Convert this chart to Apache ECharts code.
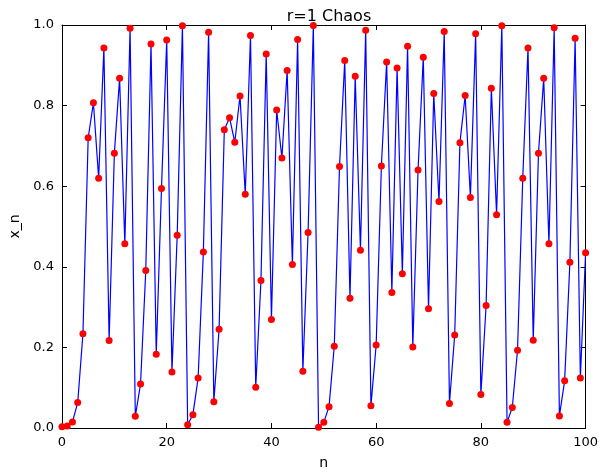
<!DOCTYPE html>
<html>
<head>
<meta charset="utf-8">
<script src="https://cdn.jsdelivr.net/npm/echarts@6/dist/echarts.min.js"></script>
<style>
html,body{margin:0;padding:0;background:#fff;}
#chart{width:601px;height:475px;}
</style>
</head>
<body>
<div id="chart"></div>
<script>
// Iteration index n and the orbit values x_n
const nValues = [];
for (let i = 0; i <= 100; i++) nValues.push(i);

const xValues = [
  0.003, 0.005, 0.015, 0.063, 0.234, 0.720, 0.807, 0.620, 0.943, 0.217,
  0.682, 0.868, 0.457, 0.992, 0.029, 0.109, 0.391, 0.953, 0.183, 0.594,
  0.963, 0.139, 0.478, 0.998, 0.008, 0.033, 0.124, 0.437, 0.982, 0.065,
  0.245, 0.740, 0.770, 0.709, 0.824, 0.580, 0.974, 0.101, 0.366, 0.928,
  0.269, 0.789, 0.670, 0.887, 0.406, 0.964, 0.141, 0.485, 0.999, 0.002,
  0.014, 0.053, 0.203, 0.649, 0.912, 0.322, 0.873, 0.441, 0.987, 0.055,
  0.206, 0.650, 0.908, 0.336, 0.893, 0.383, 0.947, 0.201, 0.640, 0.920,
  0.296, 0.830, 0.562, 0.984, 0.061, 0.231, 0.708, 0.825, 0.572, 0.978,
  0.083, 0.304, 0.843, 0.529, 0.998, 0.014, 0.051, 0.193, 0.620, 0.943,
  0.218, 0.682, 0.868, 0.457, 0.993, 0.030, 0.117, 0.411, 0.967, 0.124,
  0.435
];

const xTicks = [0, 20, 40, 60, 80, 100];
const yTicks = [0.0, 0.2, 0.4, 0.6, 0.8, 1.0];

const points = nValues.map((n, i) => [n, xValues[i]]);

const font = 'DejaVu Sans';
const tickStyle = { show: true, inside: true, length: 5, lineStyle: { color: '#000', width: 1 } };

const chart = echarts.init(document.getElementById('chart'), null, { renderer: 'canvas' });
chart.setOption({
  animation: false,
  backgroundColor: '#fff',
  title: {
    text: 'r=1 Chaos',
    left: 324, top: 4, textAlign: 'center',
    textStyle: { fontFamily: font, fontWeight: 'normal', fontSize: 16, color: '#000' }
  },
  grid: { left: 62, right: 13, top: 25, bottom: 42, containLabel: false },
  xAxis: [
    {
      type: 'value', min: xTicks[0], max: xTicks[xTicks.length - 1], interval: 20,
      name: 'n', nameLocation: 'middle', nameGap: 28,
      nameTextStyle: { fontFamily: font, fontSize: 14, color: '#000' },
      axisLine: { show: true, onZero: false, lineStyle: { color: '#000', width: 1 } },
      axisTick: tickStyle,
      axisLabel: { fontFamily: font, fontSize: 13, color: '#000', margin: 8 },
      splitLine: { show: false }
    },
    {
      type: 'value', position: 'top', min: xTicks[0], max: xTicks[xTicks.length - 1], interval: 20,
      axisLine: { show: true, onZero: false, lineStyle: { color: '#000', width: 1 } },
      axisTick: tickStyle, axisLabel: { show: false }, splitLine: { show: false }
    }
  ],
  yAxis: [
    {
      type: 'value', min: yTicks[0], max: yTicks[yTicks.length - 1], interval: 0.2,
      name: 'x_n', nameLocation: 'middle', nameGap: 36, nameRotate: 90,
      nameTextStyle: { fontFamily: font, fontSize: 14, color: '#000' },
      axisLine: { show: true, onZero: false, lineStyle: { color: '#000', width: 1 } },
      axisTick: tickStyle,
      axisLabel: { fontFamily: font, fontSize: 13, color: '#000', margin: 8,
        formatter: v => v.toFixed(1) },
      splitLine: { show: false }
    },
    {
      type: 'value', position: 'right', min: yTicks[0], max: yTicks[yTicks.length - 1], interval: 0.2,
      axisLine: { show: true, onZero: false, lineStyle: { color: '#000', width: 1 } },
      axisTick: tickStyle, axisLabel: { show: false }, splitLine: { show: false }
    }
  ],
  series: [
    {
      type: 'line', data: points, xAxisIndex: 0, yAxisIndex: 0,
      symbol: 'none', lineStyle: { color: '#0000ff', width: 1.2 }, z: 2
    },
    {
      type: 'scatter', data: points, xAxisIndex: 0, yAxisIndex: 0,
      symbol: 'circle', symbolSize: 7,
      itemStyle: { color: '#ff0000', opacity: 1 }, z: 3
    }
  ]
});
</script>
</body>
</html>
